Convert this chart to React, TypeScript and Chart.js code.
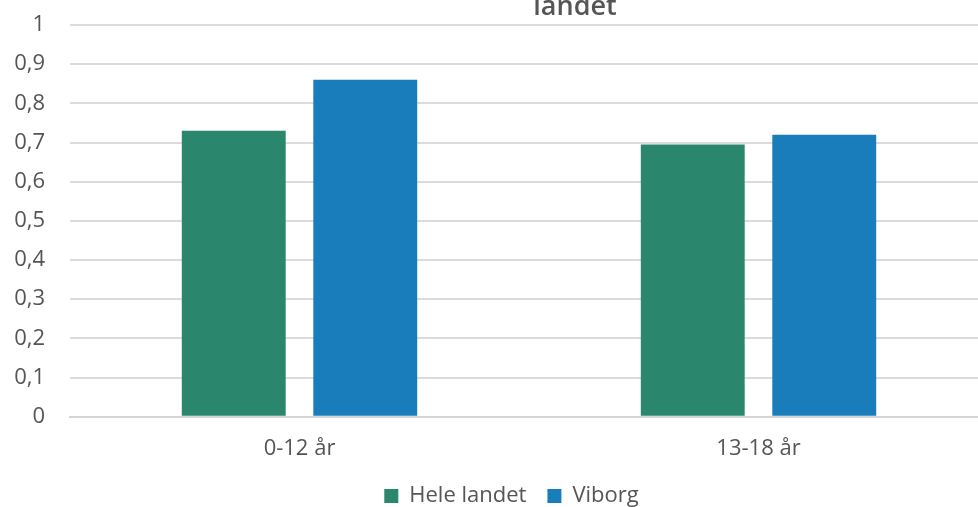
import React, { useEffect, useRef } from "react";
import { Chart, registerables } from "chart.js";

Chart.register(...registerables);

const titleText = "landet";
const categories = ["0-12 år", "13-18 år"];
const seriesNames = ["Hele landet", "Viborg"];
const heleLandet = [0.73, 0.695];
const viborg = [0.86, 0.72];
const yTickLabels = ["0", "0,1", "0,2", "0,3", "0,4", "0,5", "0,6", "0,7", "0,8", "0,9", "1"];

const GREEN = "#2A866C";
const BLUE = "#1A7DBB";
const TEXT = "#555555";
const FONT = '"Open Sans", "Noto Sans", sans-serif';

const titlePlugin = {
  id: "cutTitle",
  afterDraw(chart: any) {
    const ctx = chart.ctx;
    ctx.save();
    ctx.font = `600 27px ${FONT}`;
    ctx.fillStyle = TEXT;
    ctx.textAlign = "center";
    ctx.textBaseline = "alphabetic";
    ctx.fillText(titleText, 575, 15);
    ctx.restore();
  },
};

export default function App() {
  const ref = useRef<HTMLCanvasElement | null>(null);

  useEffect(() => {
    document.body.style.margin = "0";
    const canvas = ref.current;
    if (!canvas) return;
    const chart = new Chart(canvas, {
      type: "bar",
      data: {
        labels: categories,
        datasets: [
          { label: seriesNames[0], data: heleLandet, backgroundColor: GREEN, borderWidth: 0 },
          { label: seriesNames[1], data: viborg, backgroundColor: BLUE, borderWidth: 0 },
        ],
      },
      options: {
        responsive: false,
        animation: false,
        devicePixelRatio: 1,
        layout: { padding: { left: 5, right: 2, top: 25, bottom: -10 } },
        datasets: {
          bar: { categoryPercentage: 0.573, barPercentage: 0.79 },
        },
        plugins: {
          title: { display: false },
          tooltip: { enabled: false },
          legend: {
            display: true,
            position: "bottom",
            labels: {
              boxWidth: 14,
              boxHeight: 14,
              padding: 21,
              color: TEXT,
              font: { family: FONT, size: 22 },
            },
          },
        },
        scales: {
          x: {
            grid: { display: false, drawTicks: false },
            border: { display: true, color: "#d4d4d4", width: 2 },
            ticks: { color: TEXT, padding: -45, mirror: true, font: { family: FONT, size: 22 } },
            afterFit: (s: any) => {
              s.height = 47.3;
            },
          },
          y: {
            min: 0,
            max: 1,
            grid: { color: "#dcdcdc", lineWidth: 2, drawTicks: false },
            border: { display: false },
            ticks: {
              stepSize: 0.1,
              padding: 25,
              color: TEXT,
              font: { family: FONT, size: 22 },
              callback: (_v: any, i: number) => yTickLabels[i],
            },
            afterFit: (s: any) => {
              s.width = 65;
              s.paddingTop = 0;
              s.paddingBottom = 0;
            },
          },
          yRight: {
            type: "linear",
            position: "right",
            display: true,
            grid: { display: false, drawTicks: false },
            border: { display: false },
            ticks: { display: false },
            afterFit: (s: any) => {
              s.width = 30;
              s.paddingTop = 0;
              s.paddingBottom = 0;
            },
          },
        },
      },
      plugins: [titlePlugin],
    });
    return () => chart.destroy();
  }, []);

  return (
    <div style={{ position: "fixed", left: 0, top: 0, width: 978, height: 507, overflow: "hidden", background: "#fff" }}>
      <canvas ref={ref} width={1020} height={507} style={{ width: 1020, height: 507, display: "block" }} />
    </div>
  );
}
